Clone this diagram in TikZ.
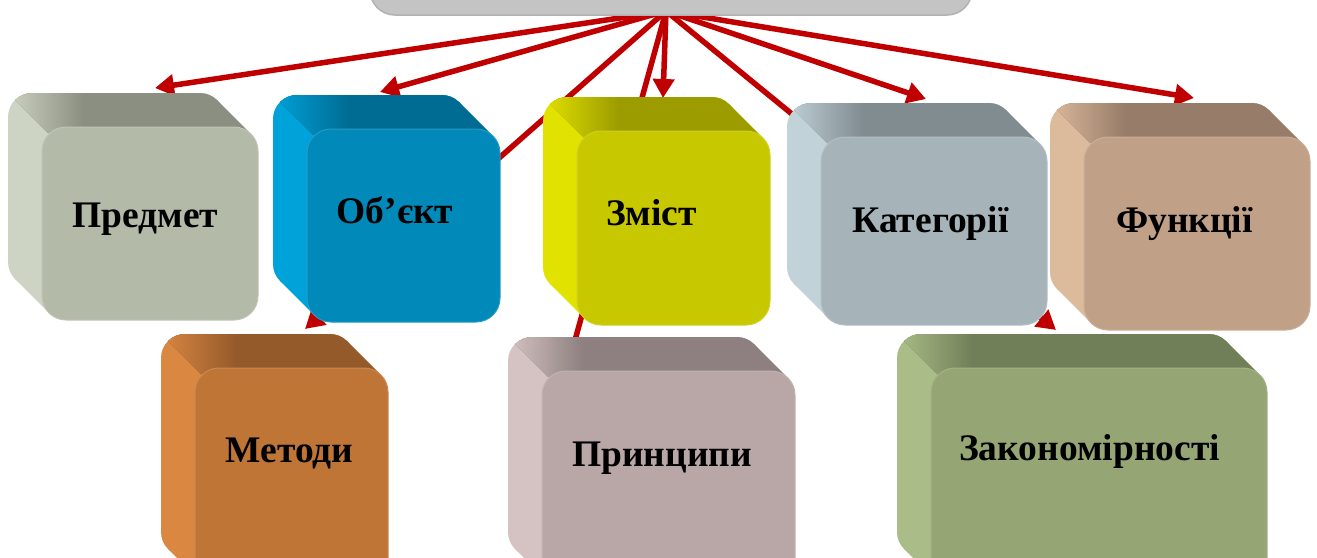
\documentclass[tikz,border=0pt]{standalone}
\usepackage{fontspec}
\setmainfont{Liberation Serif}
\usetikzlibrary{arrows.meta,fit}
\definecolor{arrred}{HTML}{C00000}
\definecolor{topgray}{HTML}{C4C4C4}
\definecolor{topedge}{HTML}{B2B2B2}
% Predmet
\definecolor{pF}{HTML}{B4BAA8}\definecolor{pT}{HTML}{8B8F81}\definecolor{pL}{HTML}{CDD4C3}
% Object
\definecolor{oF}{HTML}{0089B9}\definecolor{oT}{HTML}{006C93}\definecolor{oL}{HTML}{00A2DA}
% Zmist
\definecolor{zF}{HTML}{C8C800}\definecolor{zT}{HTML}{9C9C00}\definecolor{zL}{HTML}{E2E200}
% Katehorii
\definecolor{kF}{HTML}{A6B4B9}\definecolor{kT}{HTML}{818C91}\definecolor{kL}{HTML}{C1D2D8}
% Funktsii
\definecolor{fF}{HTML}{C0A087}\definecolor{fT}{HTML}{977C69}\definecolor{fL}{HTML}{DCBA9C}
% Metody
\definecolor{mF}{HTML}{BF7536}\definecolor{mT}{HTML}{955A2A}\definecolor{mL}{HTML}{DA8742}
% Pryntsypy
\definecolor{rF}{HTML}{B9A6A6}\definecolor{rT}{HTML}{8E8080}\definecolor{rL}{HTML}{D5C3C3}
% Zakonomirnosti
\definecolor{lF}{HTML}{95A574}\definecolor{lT}{HTML}{717F58}\definecolor{lL}{HTML}{AABD88}
\tikzset{
  arr/.style={draw=arrred, line width=5.5pt, -{Triangle[length=19pt,width=21pt]}},
  lbl/.style={font=\fontsize{37.5}{44}\selectfont\bfseries, text=black, inner sep=0pt, anchor=base},
  topbox/.style={fill=topgray, draw=topedge, line width=1.5pt, rounded corners=25pt, inner sep=0pt}
}
% #1 name, #2 x0, #3 y0, #4 x1, #5 y1, #6 front, #7 top, #8 left
\newcommand{\mkcube}[8]{%
  \fill[#8, rounded corners=24pt] (#2,#3) rectangle ({#4-34},{#5-34});
  \fill[#8] ({#4-34-7.03},{#3+7.03}) -- ({#2+7.03},{#5-34-7.03}) -- ({#2+34+7.03},{#5-7.03}) -- ({#4-7.03},{#3+34+7.03}) -- cycle;
  \begin{scope}
    \clip ({#2-5},{#3-5}) -- ({#4+5},{#3-5}) -- ({#4+5},{#3+40}) -- ({#2+40},{#3+40}) -- cycle;
    \fill[#7, rounded corners=24pt] (#2,#3) rectangle ({#4-34},{#5-34});
    \fill[#7] ({#4-34-7.03},{#3+7.03}) -- ({#2+7.03},{#5-34-7.03}) -- ({#2+34+7.03},{#5-7.03}) -- ({#4-7.03},{#3+34+7.03}) -- cycle;
    \begin{scope}
      \clip[rounded corners=24pt] (#2,#3) rectangle ({#4-34},{#5-34});
      \shade[left color=#8, right color=#7] ({#2-1},{#3-5}) rectangle ({#2+75},{#3+40});
    \end{scope}
  \end{scope}
  \coordinate (#1-nw) at ({#2+34},{#3+34});
  \coordinate (#1-se) at (#4,#5);
  \node[fit=(#1-nw)(#1-se), inner sep=0pt, fill=#6, draw=#6!85!white, line width=1pt, rounded corners=24pt] (#1) {};
}
\begin{document}
\begin{tikzpicture}[x=1pt,y=-1pt]
\clip (0,0) rectangle (1317,557);
\fill[white] (0,0) rectangle (1317,557);
% hub and arrow targets
\coordinate (hub) at (666,11);
\coordinate (tPredmet) at (155,88);
\coordinate (tObject) at (380,92);
\coordinate (tZmist) at (663,98);
\coordinate (tKateg) at (926,99);
\coordinate (tFunk) at (1194,98);
\coordinate (tMetody) at (305,329);
\coordinate (tPrync) at (564,380);
\coordinate (tZakon) at (1056,330);
% connectors
\draw[arr] (hub) -- (tPredmet);
\draw[arr] (hub) -- (tObject);
\draw[arr] (hub) -- (tMetody);
\draw[arr] (hub) -- (tPrync);
\draw[arr] (hub) -- (tZmist);
\draw[arr] (hub) -- (tZakon);
\draw[arr] (hub) -- (tKateg);
\draw[arr] (hub) -- (tFunk);
% top box
\node[topbox, minimum width=602pt, minimum height=60pt] (top) at (671,-15) {};
% cubes
\mkcube{predmet}{8}{93}{258}{320}{pF}{pT}{pL}
\mkcube{object}{273}{95}{500}{322}{oF}{oT}{oL}
\mkcube{zmist}{543}{97}{770}{325}{zF}{zT}{zL}
\mkcube{kateg}{787}{103}{1047}{325}{kF}{kT}{kL}
\mkcube{funk}{1050}{103}{1310}{330}{fF}{fT}{fL}
\mkcube{metody}{161}{334}{388}{590}{mF}{mT}{mL}
\mkcube{prync}{508}{337}{795}{590}{rF}{rT}{rL}
\mkcube{zakon}{897}{334}{1267}{590}{lF}{lT}{lL}
% labels
\node[lbl] (predmet-t) at (145.5,227) {Предмет};
\node[lbl] (object-t) at (395,223) {Об’єкт};
\node[lbl] (zmist-t) at (651.5,225) {Зміст};
\node[lbl] (kateg-t) at (930.5,232) {Категорії};
\node[lbl] (funk-t) at (1184.5,232) {Функції};
\node[lbl] (metody-t) at (289.5,462) {Методи};
\node[lbl] (prync-t) at (662,466) {Принципи};
\node[lbl] (zakon-t) at (1089.5,460) {Закономірності};
\end{tikzpicture}
\end{document}
